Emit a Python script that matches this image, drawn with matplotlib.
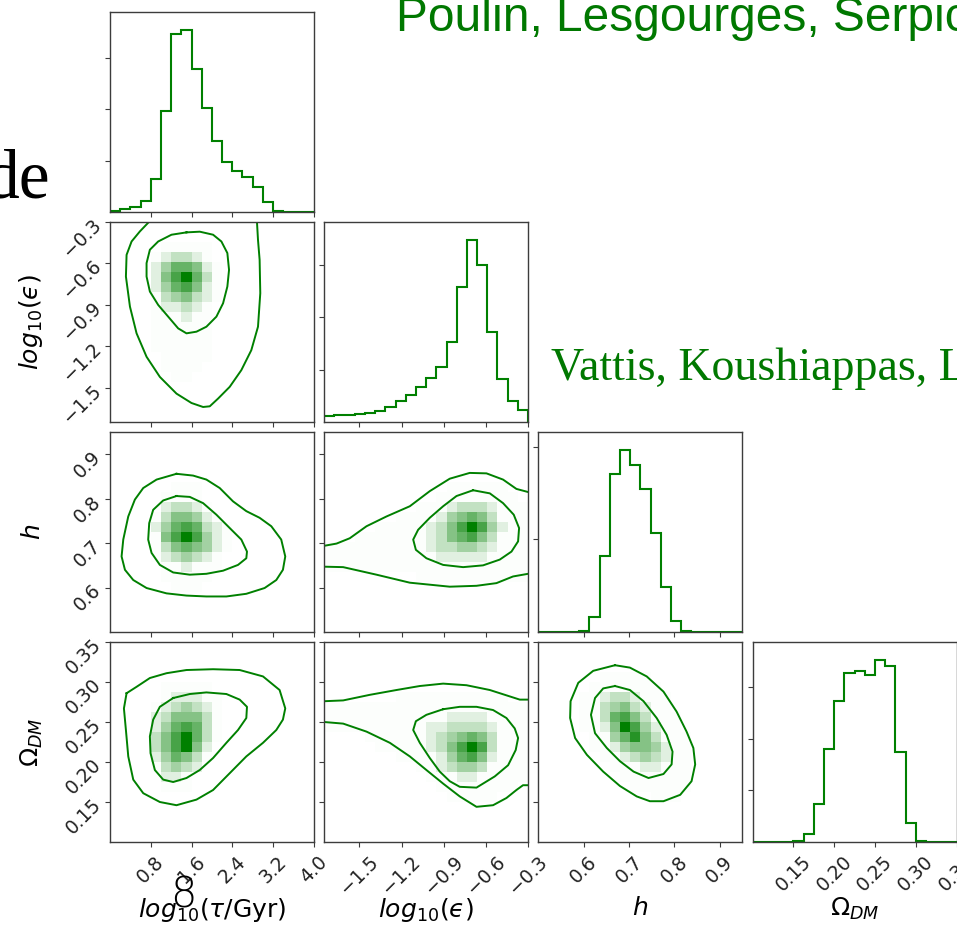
import numpy as np
import matplotlib.pyplot as plt
from matplotlib.colors import LinearSegmentedColormap

# parameter ranges, 20 bins each
tau_range = [0.0, 4.0]
eps_range = [-1.75, -0.3]
h_range = [0.5, 0.95]
om_range = [0.10, 0.35]

tau_ticks = [0.8, 1.6, 2.4, 3.2, 4.0]
eps_ticks = [-1.5, -1.2, -0.9, -0.6, -0.3]
h_ticks = [0.6, 0.7, 0.8, 0.9]
om_ticks = [0.15, 0.20, 0.25, 0.30, 0.35]

labels = [r"$log_{10}(\tau/$Gyr$)$", "$log_{10}(\u03f5)$", r"$h$", r"$\Omega_{DM}$"]

# 1d marginals (samples per bin)
tau_counts = [26, 58, 104, 221, 650, 1957, 3458, 3536, 2789, 2015,
              1385, 982, 793, 689, 494, 202, 26, 7, 3, 2]
eps_counts = [121, 127, 133, 146, 171, 203, 279, 394, 521, 673,
              832, 1048, 1524, 2578, 3473, 3004, 1727, 819, 394, 229]
h_counts = [0, 0, 0, 0, 11, 162, 820, 1712, 1964, 1802,
            1543, 1065, 489, 122, 14, 4, 0, 0, 0, 0]
om_counts = [0, 0, 0, 0, 19, 155, 738, 1806, 2738, 3275,
             3320, 3230, 3521, 3405, 1735, 362, 26, 0, 0, 0]
tau_hist_ticks = [1000, 2000, 3000]
eps_hist_ticks = [1000, 2000, 3000]
h_hist_ticks = [1000, 2000]
om_hist_ticks = [1000, 2000, 3000]

# 2d densities: shade level 0-9 per bin, top row = highest y
dens_eps_tau = [
    "00000000000000000000",
    "00000000000000000000",
    "00000111110000000000",
    "00001233210000000000",
    "00002466521000000000",
    "00002579631000000000",
    "00002467521000000000",
    "00001345321000000000",
    "00001223210000000000",
    "00001112110000000000",
    "00001111110000000000",
    "00001111110000000000",
    "00001111110000000000",
    "00000111110000000000",
    "00000111100000000000",
    "00000011000000000000",
    "00000000000000000000",
    "00000000000000000000",
    "00000000000000000000",
    "00000000000000000000",
]
dens_h_tau = [
    "00000000000000000000",
    "00000000000000000000",
    "00000000000000000000",
    "00000000000000000000",
    "00000000000000000000",
    "00000011100000000000",
    "00000111100000000000",
    "00000233210000000000",
    "00001355421000000000",
    "00002467632100000000",
    "00001579742100000000",
    "00001356542100000000",
    "00001234321000000000",
    "00000112111000000000",
    "00000111110000000000",
    "00000011100000000000",
    "00000000000000000000",
    "00000000000000000000",
    "00000000000000000000",
    "00000000000000000000",
]
dens_om_tau = [
    "00000000000000000000",
    "00000000000000000000",
    "00000000000000000000",
    "00000000000000000000",
    "00000111110000000000",
    "00000122211000000000",
    "00001234321000000000",
    "00002355531000000000",
    "00002467631000000000",
    "00003579631000000000",
    "00003579520000000000",
    "00002465310000000000",
    "00001343200000000000",
    "00000221000000000000",
    "00000111000000000000",
    "00000000000000000000",
    "00000000000000000000",
    "00000000000000000000",
    "00000000000000000000",
    "00000000000000000000",
]
dens_h_eps = [
    "00000000000000000000",
    "00000000000000000000",
    "00000000000000000000",
    "00000000000000000000",
    "00000000000000000000",
    "00000000000011111100",
    "00000000000111111110",
    "00000000011123332111",
    "00000001111245653111",
    "00000111112357974211",
    "00011111112356753111",
    "11111111112334432111",
    "11111111111222221111",
    "11111111111111111111",
    "00000000011111111111",
    "00000000000000000000",
    "00000000000000000000",
    "00000000000000000000",
    "00000000000000000000",
    "00000000000000000000",
]
dens_om_eps = [
    "00000000000000000000",
    "00000000000000000000",
    "00000000000000000000",
    "00000000000000000000",
    "00000000000000000000",
    "00000001111111111100",
    "11111111111111111111",
    "11111111111122221111",
    "11111111112233332111",
    "00001111112345653111",
    "00000111112357973111",
    "00000001111246752111",
    "00000000011234431111",
    "00000000001112211111",
    "00000000000111111110",
    "00000000000011111000",
    "00000000000000000000",
    "00000000000000000000",
    "00000000000000000000",
    "00000000000000000000",
]
dens_om_h = [
    "00000000000000000000",
    "00000000000000000000",
    "00000000000000000000",
    "00000011111000000000",
    "00000111111100000000",
    "00001123321110000000",
    "00001134532110000000",
    "00001136753111000000",
    "00001125974211000000",
    "00000114685311100000",
    "00000112455421100000",
    "00000011234321100000",
    "00000001112211100000",
    "00000000111111100000",
    "00000000011111100000",
    "00000000000111000000",
    "00000000000000000000",
    "00000000000000000000",
    "00000000000000000000",
    "00000000000000000000",
]

# 68% and 95% contours, (x, y) in parameter units
c68_eps_tau = [(1.501, -0.375), (1.762, -0.370), (2.023, -0.392), (2.186, -0.441),
               (2.303, -0.525), (2.336, -0.647), (2.303, -0.768), (2.219, -0.889),
               (2.088, -0.986), (1.892, -1.059), (1.697, -1.095), (1.501, -1.107),
               (1.338, -1.071), (1.142, -0.986), (0.946, -0.901), (0.783, -0.804),
               (0.718, -0.695), (0.718, -0.598), (0.783, -0.501), (0.946, -0.441),
               (1.207, -0.392), (1.501, -0.375)]
c95_eps_tau = [[(0.763, -0.30), (0.587, -0.368), (0.424, -0.441), (0.326, -0.538),
                (0.313, -0.695), (0.392, -0.913), (0.522, -1.107), (0.718, -1.277),
                (0.979, -1.423), (1.305, -1.544), (1.599, -1.612), (1.827, -1.641),
                (1.958, -1.636), (2.121, -1.580), (2.349, -1.495), (2.577, -1.374),
                (2.773, -1.229), (2.904, -1.059), (2.949, -0.816), (2.936, -0.574),
                (2.904, -0.429), (2.884, -0.30)]]

c68_h_tau = [(1.305, 0.806), (1.566, 0.804), (1.827, 0.790), (2.088, 0.764),
             (2.349, 0.734), (2.577, 0.708), (2.688, 0.681), (2.675, 0.666),
             (2.512, 0.651), (2.219, 0.638), (1.892, 0.631), (1.566, 0.629),
             (1.240, 0.634), (0.979, 0.651), (0.816, 0.678), (0.750, 0.708),
             (0.770, 0.745), (0.848, 0.775), (1.044, 0.796), (1.305, 0.806)]
c95_h_tau = [[(1.305, 0.856), (1.631, 0.852), (1.892, 0.843), (2.153, 0.824),
              (2.414, 0.794), (2.675, 0.772), (2.936, 0.757), (3.165, 0.738),
              (3.360, 0.708), (3.439, 0.670), (3.393, 0.640), (3.263, 0.617),
              (3.034, 0.599), (2.675, 0.586), (2.284, 0.580), (1.892, 0.580),
              (1.501, 0.582), (1.109, 0.587), (0.718, 0.599), (0.457, 0.617),
              (0.294, 0.640), (0.228, 0.670), (0.261, 0.708), (0.359, 0.760),
              (0.489, 0.798), (0.653, 0.824), (0.914, 0.843), (1.305, 0.856)]]

c68_om_tau = [(1.240, 0.280), (1.566, 0.285), (1.892, 0.287), (2.284, 0.285),
              (2.545, 0.278), (2.688, 0.269), (2.675, 0.255), (2.512, 0.240),
              (2.284, 0.224), (2.023, 0.205), (1.762, 0.190), (1.501, 0.180),
              (1.240, 0.175), (1.044, 0.178), (0.881, 0.190), (0.796, 0.211),
              (0.783, 0.232), (0.848, 0.253), (0.979, 0.269), (1.240, 0.280)]
c95_om_tau = [[(0.326, 0.286), (0.522, 0.294), (0.783, 0.305), (1.109, 0.311),
               (1.501, 0.315), (2.023, 0.316), (2.545, 0.315), (3.002, 0.307),
               (3.328, 0.290), (3.439, 0.267), (3.393, 0.253), (3.263, 0.240),
               (3.002, 0.224), (2.675, 0.207), (2.349, 0.186), (2.023, 0.165),
               (1.697, 0.153), (1.305, 0.146), (0.979, 0.150), (0.653, 0.161),
               (0.457, 0.178), (0.359, 0.207), (0.313, 0.240), (0.274, 0.267),
               (0.326, 0.286)]]

c68_h_eps = [(-0.691, 0.819), (-0.572, 0.812), (-0.478, 0.790), (-0.402, 0.764),
             (-0.364, 0.734), (-0.371, 0.704), (-0.418, 0.681), (-0.501, 0.663),
             (-0.620, 0.650), (-0.762, 0.646), (-0.904, 0.651), (-1.023, 0.666),
             (-1.098, 0.685), (-1.117, 0.708), (-1.082, 0.730), (-0.999, 0.757),
             (-0.904, 0.783), (-0.809, 0.806), (-0.691, 0.819)]
c95_h_eps = [[(-1.750, 0.694), (-1.662, 0.699), (-1.568, 0.711), (-1.449, 0.738),
              (-1.307, 0.760), (-1.141, 0.783), (-0.999, 0.817), (-0.857, 0.845),
              (-0.715, 0.858), (-0.596, 0.857), (-0.478, 0.843), (-0.383, 0.822),
              (-0.300, 0.815)],
             [(-1.750, 0.647), (-1.615, 0.646), (-1.378, 0.629), (-1.141, 0.611),
              (-0.857, 0.602), (-0.667, 0.604), (-0.525, 0.610), (-0.407, 0.625),
              (-0.300, 0.631)]]

c68_om_eps = [(-0.904, 0.266), (-0.786, 0.269), (-0.667, 0.269), (-0.549, 0.265),
              (-0.454, 0.255), (-0.395, 0.242), (-0.371, 0.230), (-0.388, 0.215),
              (-0.442, 0.196), (-0.537, 0.182), (-0.667, 0.168), (-0.786, 0.169),
              (-0.857, 0.176), (-0.928, 0.188), (-0.999, 0.205), (-1.070, 0.224),
              (-1.117, 0.240), (-1.098, 0.251), (-1.023, 0.259), (-0.904, 0.266)]
c95_om_eps = [[(-1.750, 0.276), (-1.615, 0.277), (-1.425, 0.284), (-1.236, 0.290),
               (-1.070, 0.295), (-0.904, 0.298), (-0.738, 0.296), (-0.572, 0.290),
               (-0.430, 0.282), (-0.359, 0.278), (-0.300, 0.278)],
              [(-1.750, 0.250), (-1.615, 0.248), (-1.449, 0.238), (-1.283, 0.224),
               (-1.141, 0.207), (-1.023, 0.190), (-0.904, 0.173), (-0.786, 0.157),
               (-0.667, 0.144), (-0.549, 0.146), (-0.454, 0.155), (-0.383, 0.165),
               (-0.336, 0.171), (-0.300, 0.171)]]

c68_om_h = [(0.669, 0.295), (0.702, 0.290), (0.732, 0.276), (0.761, 0.255),
            (0.783, 0.234), (0.796, 0.213), (0.794, 0.197), (0.776, 0.185),
            (0.743, 0.180), (0.710, 0.188), (0.680, 0.201), (0.651, 0.2175),
            (0.625, 0.236), (0.616, 0.259), (0.625, 0.280), (0.643, 0.292),
            (0.669, 0.295)]
c95_om_h = [[(0.669, 0.321), (0.702, 0.318), (0.739, 0.307), (0.776, 0.288),
             (0.805, 0.263), (0.827, 0.238), (0.842, 0.2175), (0.846, 0.197),
             (0.838, 0.176), (0.813, 0.159), (0.776, 0.151), (0.746, 0.151),
             (0.717, 0.157), (0.680, 0.170), (0.643, 0.188), (0.607, 0.209),
             (0.581, 0.230), (0.570, 0.255), (0.571, 0.276), (0.588, 0.299),
             (0.621, 0.314), (0.669, 0.321)]]

green = "#008000"
shade = [0, 0.015, 0.12, 0.24, 0.36, 0.48, 0.6, 0.72, 0.85, 1.0]
cmap = LinearSegmentedColormap.from_list("dens", ["#ffffff", green])

plt.rcParams.update({
    "axes.edgecolor": "#3c3c3c",
    "axes.linewidth": 1.0,
    "xtick.color": "#3c3c3c",
    "ytick.color": "#3c3c3c",
    "xtick.labelcolor": "#222222",
    "ytick.labelcolor": "#222222",
    "xtick.labelsize": 13.5,
    "ytick.labelsize": 13.5,
    "xtick.major.pad": 4,
    "ytick.major.pad": 5,
})

ranges = [tau_range, eps_range, h_range, om_range]
ticks = [tau_ticks, eps_ticks, h_ticks, om_ticks]
counts = [tau_counts, eps_counts, h_counts, om_counts]
hist_ticks = [tau_hist_ticks, eps_hist_ticks, h_hist_ticks, om_hist_ticks]
pairs = {
    (1, 0): (dens_eps_tau, c68_eps_tau, c95_eps_tau),
    (2, 0): (dens_h_tau, c68_h_tau, c95_h_tau),
    (3, 0): (dens_om_tau, c68_om_tau, c95_om_tau),
    (2, 1): (dens_h_eps, c68_h_eps, c95_h_eps),
    (3, 1): (dens_om_eps, c68_om_eps, c95_om_eps),
    (3, 2): (dens_om_h, c68_om_h, c95_om_h),
}

fig, axes = plt.subplots(4, 4, figsize=(9.57, 9.26), dpi=100,
                         gridspec_kw=dict(left=0.1149, right=0.9995, top=0.987,
                                          bottom=0.0907, wspace=0.0506, hspace=0.05))

for i in range(4):
    for j in range(4):
        ax = axes[i, j]
        if j > i:
            ax.axis("off")
            continue
        xr = ranges[j]
        edges = np.linspace(xr[0], xr[1], 21)
        if i == j:
            ax.stairs(counts[i], edges, color=green, lw=1.5)
            ax.set_ylim(0, 1.1 * max(counts[i]))
            ax.set_yticks(hist_ticks[i])
            ax.set_yticklabels([])
        else:
            grid, c68, c95 = pairs[(i, j)]
            yr = ranges[i]
            z = np.array([[shade[int(ch)] for ch in row] for row in grid])[::-1]
            ax.pcolormesh(edges, np.linspace(yr[0], yr[1], 21), z,
                          cmap=cmap, vmin=0, vmax=1)
            for path in c95 + [c68]:
                px, py = zip(*path)
                ax.plot(px, py, color=green, lw=1.4)
            ax.set_ylim(yr)
            ax.set_yticks(ticks[i])
            if j == 0:
                ax.set_ylabel(labels[i], fontsize=18)
                ax.yaxis.set_label_coords(-0.32, 0.5)
                plt.setp(ax.get_yticklabels(), rotation=45, rotation_mode="anchor",
                         ha="right", va="center")
            else:
                ax.set_yticklabels([])
        ax.set_xlim(xr)
        ax.set_xticks(ticks[j])
        if i == 3:
            ax.set_xlabel(labels[j], fontsize=18)
            ax.xaxis.set_label_coords(0.5, -0.27)
            plt.setp(ax.get_xticklabels(), rotation=45)
        else:
            ax.set_xticklabels([])

# slide text around the figure
fig.text(396 / 957, 1 - 31 / 926, "Poulin, Lesgourges, Serpico", color="#007800",
         fontsize=34.5, family="Liberation Sans", va="baseline")
fig.text(551 / 957, 1 - 380 / 926, "Vattis, Koushiappas, Loeb", color="#007800",
         fontsize=33, family="Liberation Serif", va="baseline")
fig.text(50 / 957, 1 - 197 / 926, "de", color="black", fontsize=50,
         family="Liberation Serif", ha="right", va="baseline")
fig.text(183 / 957, 1 - 907 / 926, "8", color="black", fontsize=30,
         family="DejaVu Sans", ha="center", va="baseline", fontweight="light")

fig.savefig("out.png", dpi=100)
